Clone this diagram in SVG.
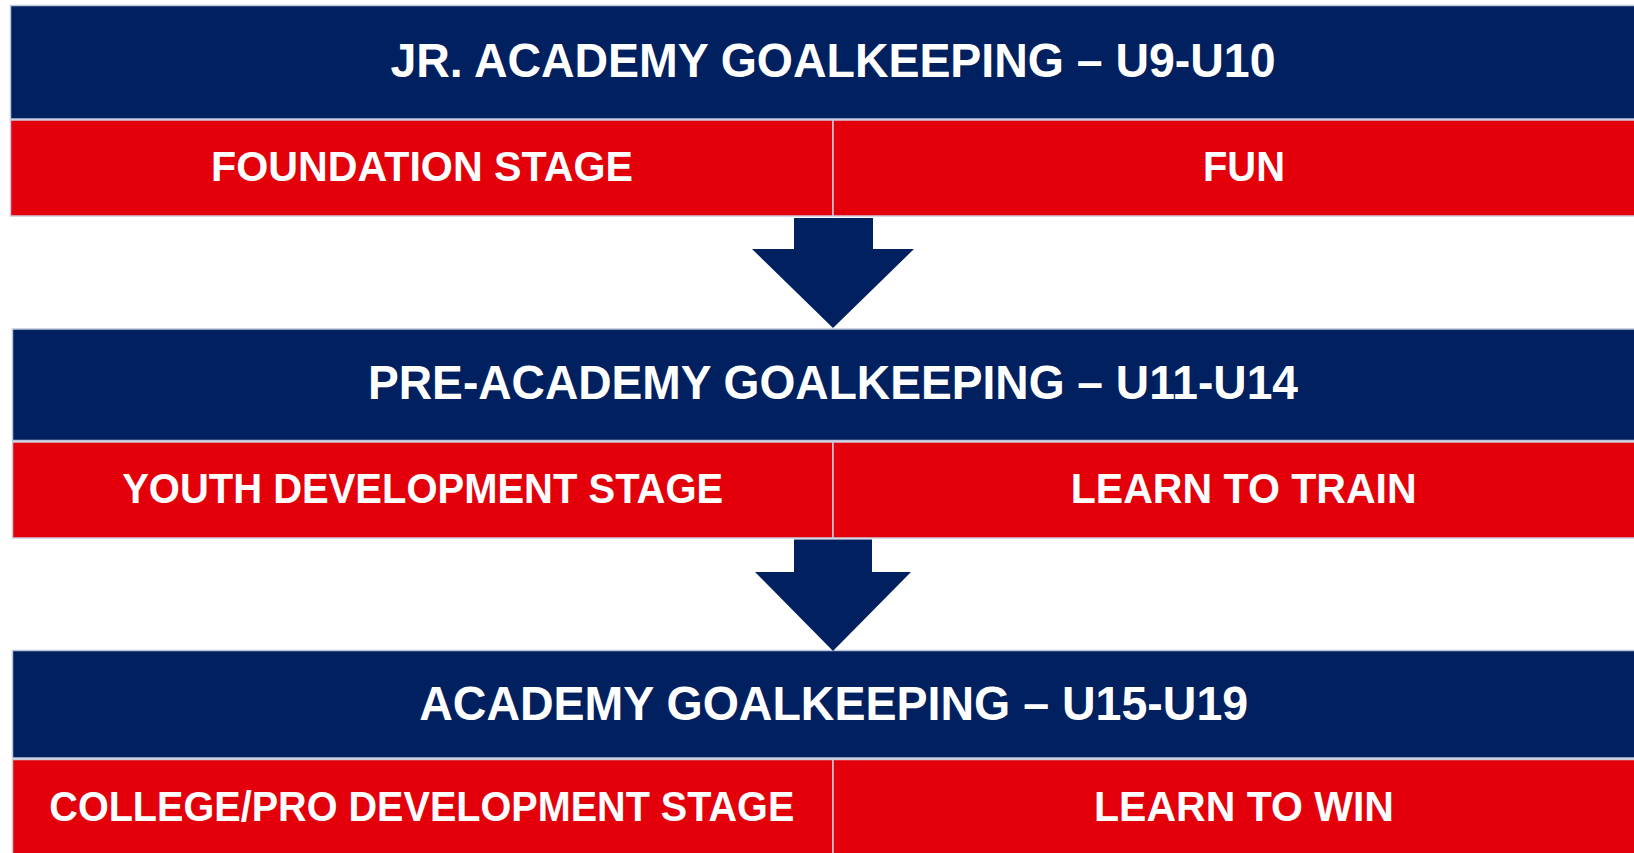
<svg xmlns="http://www.w3.org/2000/svg" width="1634" height="853" viewBox="0 0 1634 853">
  <style>
    .blue { fill: #002060; stroke: #BFC6DC; stroke-width: 1.5; }
    .red { fill: #E3000A; stroke: #C9CBDD; stroke-width: 1.5; }
    .title { font-family: "Liberation Sans", Arial, sans-serif; font-weight: bold; font-size: 48px; fill: #FFFFFF; text-anchor: middle; }
    .sub { font-family: "Liberation Sans", Arial, sans-serif; font-weight: bold; font-size: 43px; fill: #FFFFFF; text-anchor: middle; }
    .arrow { fill: #002060; stroke: none; }
  </style>
  <rect x="0" y="0" width="1634" height="853" fill="#FFFFFF"/>

  <g id="jr-academy-title">
    <rect class="blue" x="10.5" y="5.5" width="1660" height="113.5"/>
    <text class="title" x="833" y="77.3" textLength="885" lengthAdjust="spacingAndGlyphs">JR. ACADEMY GOALKEEPING – U9-U10</text>
  </g>
  <g id="foundation-stage">
    <rect class="red" x="10.5" y="120" width="822.5" height="96"/>
    <text class="sub" x="422" y="181" textLength="422" lengthAdjust="spacingAndGlyphs">FOUNDATION STAGE</text>
  </g>
  <g id="fun">
    <rect class="red" x="833" y="120" width="837" height="96"/>
    <text class="sub" x="1244" y="181" textLength="82" lengthAdjust="spacingAndGlyphs">FUN</text>
  </g>

  <g id="pre-academy-title">
    <rect class="blue" x="12.5" y="329" width="1660" height="111.5"/>
    <text class="title" x="833" y="399" textLength="930" lengthAdjust="spacingAndGlyphs">PRE-ACADEMY GOALKEEPING – U11-U14</text>
  </g>
  <g id="youth-development-stage">
    <rect class="red" x="12.5" y="442" width="820.5" height="96"/>
    <text class="sub" x="422.7" y="502.7" textLength="601" lengthAdjust="spacingAndGlyphs">YOUTH DEVELOPMENT STAGE</text>
  </g>
  <g id="learn-to-train">
    <rect class="red" x="833" y="442" width="837" height="96"/>
    <text class="sub" x="1243.7" y="502.5" textLength="346" lengthAdjust="spacingAndGlyphs">LEARN TO TRAIN</text>
  </g>

  <g id="academy-title">
    <rect class="blue" x="12.5" y="650.5" width="1660" height="107.5"/>
    <text class="title" x="833.7" y="720" textLength="829" lengthAdjust="spacingAndGlyphs">ACADEMY GOALKEEPING – U15-U19</text>
  </g>
  <g id="college-pro-development-stage">
    <rect class="red" x="12.5" y="759.5" width="820.5" height="100"/>
    <text class="sub" x="421.8" y="820.5" textLength="745" lengthAdjust="spacingAndGlyphs">COLLEGE/PRO DEVELOPMENT STAGE</text>
  </g>
  <g id="learn-to-win">
    <rect class="red" x="833" y="759.5" width="837" height="100"/>
    <text class="sub" x="1244" y="820.5" textLength="300" lengthAdjust="spacingAndGlyphs">LEARN TO WIN</text>
  </g>

  <g id="connectors">
    <polygon class="arrow" points="794,218 873,218 873,249 914,249 833,328 752,249 794,249"/>
    <polygon class="arrow" points="794,539.5 872,539.5 872,572 911,572 833,651 755,572 794,572"/>
  </g>
</svg>
